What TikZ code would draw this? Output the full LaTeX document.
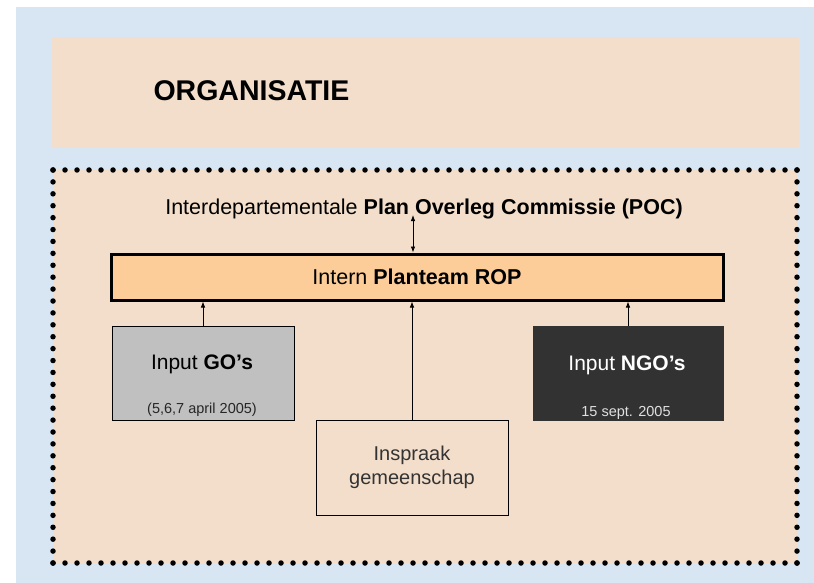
\documentclass[tikz,border=0pt]{standalone}
\usepackage{fontspec}
\setmainfont{Liberation Sans}
\usetikzlibrary{arrows.meta}
\definecolor{skyblue}{RGB}{216,230,244}
\definecolor{peach}{RGB}{243,222,203}
\definecolor{ropfill}{RGB}{252,204,153}
\definecolor{gofill}{RGB}{192,192,192}
\definecolor{ngofill}{RGB}{50,50,50}
\newcommand{\fsz}[1]{\fontsize{#1}{1.15\dimexpr #1pt\relax}\selectfont}
\tikzset{
	box/.style={draw, line width=1pt, inner sep=0pt},
	dotline/.style={line width=5.5pt, line cap=round},
	inarrow/.style={-{Latex[length=6pt,width=4.5pt]}, line width=0.8pt},
	botharrow/.style={{Latex[length=6pt,width=4.5pt]}-{Latex[length=6pt,width=4.5pt]}, line width=0.8pt},
}

\begin{document}
\begin{tikzpicture}[x=1pt, y=-1pt]
		\useasboundingbox (0,0) rectangle (814,583);
		\fill[skyblue] (16,7) rectangle (814,583);
		\fill[peach] (52,37) rectangle (799,148);
		\node[anchor=base west, font=\bfseries\fsz{28.5}] (title) at (150,101) {ORGANISATIE};
		% dotted frame
		\fill[peach] (53,170) rectangle (797,563);
		\draw[dotline, dash pattern=on 0pt off 12pt] (53,170) -- (797,170);
		\draw[dotline, dash pattern=on 0pt off 12pt] (53,563) -- (797,563);
		\draw[dotline, dash pattern=on 0pt off 11.909pt] (53,170) -- (53,563);
		\draw[dotline, dash pattern=on 0pt off 11.909pt] (797,170) -- (797,563);
		\node[anchor=base, font=\fsz{21.5}] (poc) at (424,214) {Interdepartementale \textbf{Plan Overleg Commissie (POC)}};
		\node[box, line width=3pt, fill=ropfill, minimum width=612, minimum height=46, font=\fsz{21.5}] (rop) at (417,277) {Intern \textbf{Planteam ROP}};
		\node[box, fill=gofill, minimum width=182, minimum height=94] (go) at (203,373) {};
		\node[anchor=base, font=\fsz{21}] (gotext) at (202,369) {Input \textbf{GO’s}};
		\node[anchor=base, font=\fsz{14.5}, text=black!85] (godate) at (202,413) {(5,6,7 april 2005)};
		\node[box, draw=ngofill, fill=ngofill, minimum width=190, minimum height=94] (ngo) at (628,373) {};
		\node[anchor=base, font=\fsz{21}, text=white] (ngotext) at (627,370) {Input \textbf{NGO’s}};
		\node[anchor=base, font=\fsz{14.5}, text=white!88!black] (ngodate) at (626,416) {15 sept. 2005};
		\node[box, minimum width=192, minimum height=95, align=center, font=\fontsize{20}{24}\selectfont, text=black!80] (insp) at (412,467.5) {Inspraak\\gemeenschap};
		\coordinate (pocfoot) at (413,215);
		\draw[botharrow] (pocfoot) -- (pocfoot |- rop.north);
		\draw[inarrow] (go.north) -- (go.north |- rop.south);
		\draw[inarrow] (insp.north) -- (insp.north |- rop.south);
		\draw[inarrow] (ngo.north) -- (ngo.north |- rop.south);
\end{tikzpicture}
\end{document}
